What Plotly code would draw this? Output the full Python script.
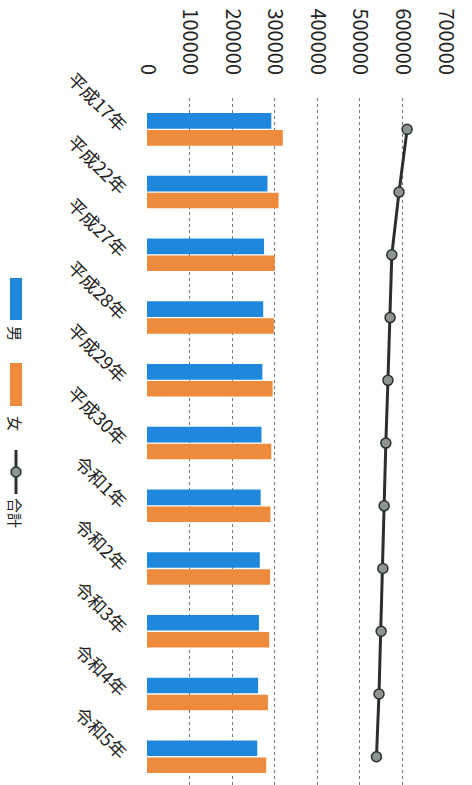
import plotly.graph_objects as go

# 年次別人口（男・女・合計）
years = ["平成17年", "平成22年", "平成27年", "平成28年", "平成29年", "平成30年",
         "令和1年", "令和2年", "令和3年", "令和4年", "令和5年"]
male = [292000, 283000, 275000, 273000, 271000, 269000, 267000, 265000, 263000, 261000, 259000]
female = [319000, 309000, 300000, 298000, 295000, 292000, 290000, 289000, 287000, 284000, 280000]
total = [m + f for m, f in zip(male, female)]
value_ticks = [0, 100000, 200000, 300000, 400000, 500000, 600000, 700000]

BLUE = "#1f88dc"
ORANGE = "#ee8a3c"
DARK = "#2b2f2d"
FONT = "Noto Sans CJK JP"

W, H = 472, 785
L, R, T, B = 147, 27, 98, 0

fig = go.Figure()
fig.add_trace(go.Bar(y=years, x=male, name="男", orientation="h",
                     marker=dict(color=BLUE, line=dict(width=0))))
fig.add_trace(go.Bar(y=years, x=female, name="女", orientation="h",
                     marker=dict(color=ORANGE, line=dict(width=0))))
fig.add_trace(go.Scatter(y=years, x=total, name="合計", mode="lines+markers",
                         line=dict(color=DARK, width=3),
                         marker=dict(symbol="circle", size=10, color="#8d958f",
                                     line=dict(color=DARK, width=1.5))))

# 凡例（縦書き配置）
pw, ph = W - L - R, H - T - B


def px(x):
    return (x - L) / pw


def py(y):
    return (H - B - y) / ph


shapes = [
    dict(type="rect", xref="paper", yref="paper", x0=px(10), x1=px(22), y0=py(320), y1=py(278),
         fillcolor=BLUE, line=dict(width=0)),
    dict(type="rect", xref="paper", yref="paper", x0=px(10), x1=px(22), y0=py(406), y1=py(363),
         fillcolor=ORANGE, line=dict(width=0)),
    dict(type="line", xref="paper", yref="paper", x0=px(16), x1=px(16), y0=py(494), y1=py(450),
         line=dict(color=DARK, width=3)),
    dict(type="circle", xref="paper", yref="paper", x0=px(11), x1=px(21), y0=py(477), y1=py(467),
         fillcolor="#8d958f", line=dict(color=DARK, width=1.5)),
]
annotations = [
    dict(text=t, xref="paper", yref="paper", x=px(16), y=py(yc), showarrow=False,
         textangle=90, font=dict(family=FONT, size=15, color="#222"),
         xanchor="center", yanchor="middle")
    for t, yc in [("男", 333), ("女", 423), ("合計", 513)]
]

fig.update_layout(
    width=W, height=H,
    margin=dict(l=L, r=R, t=T, b=B, pad=0),
    paper_bgcolor="white", plot_bgcolor="white",
    barmode="group", bargap=0.46, bargroupgap=0.08,
    showlegend=False,
    font=dict(family=FONT, color="#222"),
    shapes=shapes, annotations=annotations,
    xaxis=dict(side="top", range=[0, 700000], tickvals=value_ticks,
               ticktext=[str(v) for v in value_ticks], tickangle=90,
               tickfont=dict(family=FONT, size=20, color="#222"),
               showgrid=True, gridcolor="#777", griddash="dot", gridwidth=1,
               zeroline=False, showline=False, ticks="", ticklabelstandoff=19),
    yaxis=dict(type="category", range=[10.45, -0.5], tickangle=45,
               tickfont=dict(family=FONT, size=18, color="#222"),
               showgrid=False, zeroline=False, showline=False, ticks="",
               ticklabelstandoff=21),
)

fig.write_html("out.html")
